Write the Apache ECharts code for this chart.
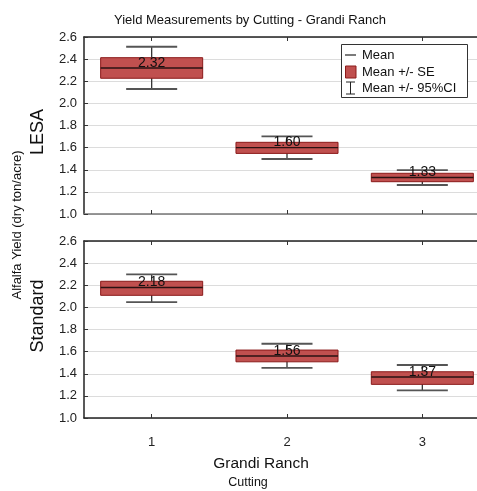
<!DOCTYPE html>
<html><head><meta charset="utf-8">
<script src="https://cdn.jsdelivr.net/npm/echarts@6/dist/echarts.min.js"></script>
<style>html,body{margin:0;padding:0;background:#fff}#c{width:477px;height:491px}</style>
</head><body><div id="c"></div>
<script>
const cuttings = ['1', '2', '3'];
const yTicks = [1.0, 1.2, 1.4, 1.6, 1.8, 2.0, 2.2, 2.4, 2.6];
// LESA
const lesaMean = [2.32, 1.60, 1.33];
const lesaSeLow = [2.227, 1.548, 1.292];
const lesaSeHigh = [2.413, 1.648, 1.368];
const lesaCiLow = [2.13, 1.497, 1.262];
const lesaCiHigh = [2.512, 1.702, 1.397];
// Standard
const stdMean = [2.18, 1.56, 1.37];
const stdSeLow = [2.109, 1.508, 1.304];
const stdSeHigh = [2.236, 1.614, 1.418];
const stdCiLow = [2.048, 1.454, 1.25];
const stdCiHigh = [2.299, 1.671, 1.479];

const FONT = 'Liberation Sans, Arial, sans-serif';
const chart = echarts.init(document.getElementById('c'), null, {renderer: 'canvas'});

function rangeData(lo, hi) { return cuttings.map((c, i) => [i, lo[i], hi[i]]); }
function meanData(m) { return cuttings.map((c, i) => [i, m[i]]); }

function boxItem(params, api) {
  const x = api.value(0);
  const lo = api.coord([x, api.value(1)]);
  const hi = api.coord([x, api.value(2)]);
  const bw = api.size([1, 0])[0] * 0.754;
  return {type: 'rect', shape: {x: lo[0] - bw / 2, y: hi[1], width: bw, height: lo[1] - hi[1]},
    style: {fill: '#c0504f', stroke: '#8b1a1a', lineWidth: 1}};
}
function ciItem(params, api) {
  const x = api.value(0);
  const lo = api.coord([x, api.value(1)]);
  const hi = api.coord([x, api.value(2)]);
  const cw = api.size([1, 0])[0] * 0.377;
  return {type: 'group', children: [
    {type: 'line', shape: {x1: lo[0], y1: lo[1], x2: hi[0], y2: hi[1]}, style: {stroke: '#333', lineWidth: 1.3}},
    {type: 'line', shape: {x1: hi[0] - cw / 2, y1: hi[1], x2: hi[0] + cw / 2, y2: hi[1]}, style: {stroke: '#555', lineWidth: 1.8}},
    {type: 'line', shape: {x1: lo[0] - cw / 2, y1: lo[1], x2: lo[0] + cw / 2, y2: lo[1]}, style: {stroke: '#555', lineWidth: 1.8}}
  ]};
}
function meanItem(params, api) {
  const x = api.value(0);
  const v = api.value(1);
  const p = api.coord([x, v]);
  const bw = api.size([1, 0])[0] * 0.754;
  return {type: 'group', children: [
    {type: 'line', shape: {x1: p[0] - bw / 2, y1: p[1], x2: p[0] + bw / 2, y2: p[1]}, style: {stroke: '#2a1212', lineWidth: 1.4}},
    {type: 'text', x: p[0], y: p[1] + 2, style: {text: v.toFixed(2), fill: '#111', font: '14px ' + FONT, align: 'center', verticalAlign: 'bottom'}}
  ]};
}

function xAx(gi, pos, lineColor, showLabel) {
  return {type: 'category', gridIndex: gi, position: pos, data: cuttings, boundaryGap: true,
    axisLine: {show: true, onZero: false, lineStyle: {color: lineColor, width: 1.5}},
    axisTick: {show: true, inside: true, length: 4, alignWithLabel: true, lineStyle: {color: '#333'}},
    axisLabel: {show: showLabel, fontSize: 13, color: '#222', fontFamily: FONT, margin: 18},
    splitLine: {show: false}};
}
function yAx(gi) {
  return {type: 'value', gridIndex: gi, min: yTicks[0], max: yTicks[yTicks.length - 1], interval: 0.2,
    axisLine: {show: true, lineStyle: {color: '#222', width: 1.5}},
    axisTick: {show: true, inside: true, length: 4, lineStyle: {color: '#333'}},
    axisLabel: {fontSize: 13, color: '#222', fontFamily: FONT, margin: 7, formatter: v => v.toFixed(1)},
    splitLine: {show: true, lineStyle: {color: '#dcdcdc', width: 1}}};
}

const panels = [
  {m: lesaMean, seL: lesaSeLow, seH: lesaSeHigh, ciL: lesaCiLow, ciH: lesaCiHigh},
  {m: stdMean, seL: stdSeLow, seH: stdSeHigh, ciL: stdCiLow, ciH: stdCiHigh}
];
const series = [];
panels.forEach((p, gi) => {
  const xi = gi * 2;
  series.push({type: 'custom', name: 'Mean +/- 95%CI', xAxisIndex: xi, yAxisIndex: gi, renderItem: ciItem, data: rangeData(p.ciL, p.ciH), silent: true});
  series.push({type: 'custom', name: 'Mean +/- SE', xAxisIndex: xi, yAxisIndex: gi, renderItem: boxItem, data: rangeData(p.seL, p.seH), silent: true});
  series.push({type: 'custom', name: 'Mean', xAxisIndex: xi, yAxisIndex: gi, renderItem: meanItem, data: meanData(p.m), silent: true});
});

const legendX = 341, legendY = 44;
const option = {
  animation: false,
  backgroundColor: '#fff',
  title: {text: 'Yield Measurements by Cutting - Grandi Ranch', left: 109, top: 9,
    textStyle: {fontSize: 13, fontWeight: 'normal', color: '#111', fontFamily: FONT}},
  grid: [
    {left: 84, top: 37, width: 406, height: 177, outerBoundsMode: 'none', containLabel: false},
    {left: 84, top: 241, width: 406, height: 177, outerBoundsMode: 'none', containLabel: false}
  ],
  xAxis: [xAx(0, 'bottom', '#777', false), xAx(0, 'top', '#222', false), xAx(1, 'bottom', '#222', true), xAx(1, 'top', '#222', false)],
  yAxis: [yAx(0), yAx(1)],
  series: series,
  graphic: [
    {type: 'text', x: 38, y: 132, rotation: Math.PI / 2, style: {text: 'LESA', font: '18px ' + FONT, fill: '#111', align: 'center', verticalAlign: 'middle'}},
    {type: 'text', x: 38, y: 316, rotation: Math.PI / 2, style: {text: 'Standard', font: '18px ' + FONT, fill: '#111', align: 'center', verticalAlign: 'middle'}},
    {type: 'text', x: 17, y: 225, rotation: Math.PI / 2, style: {text: 'Alfalfa Yield (dry ton/acre)', font: '13px ' + FONT, fill: '#111', align: 'center', verticalAlign: 'middle'}},
    {type: 'text', x: 261, y: 464, style: {text: 'Grandi Ranch', font: '15.5px ' + FONT, fill: '#111', align: 'center', verticalAlign: 'middle'}},
    {type: 'text', x: 248, y: 483, style: {text: 'Cutting', font: '12.5px ' + FONT, fill: '#111', align: 'center', verticalAlign: 'middle'}},
    {type: 'rect', shape: {x: legendX + 0.5, y: legendY + 0.5, width: 126, height: 53}, style: {fill: '#fff', stroke: '#333', lineWidth: 1}, z: 100},
    {type: 'line', shape: {x1: legendX + 4, y1: legendY + 11, x2: legendX + 15, y2: legendY + 11}, style: {stroke: '#222', lineWidth: 1.2}, z: 101},
    {type: 'rect', shape: {x: legendX + 4.5, y: legendY + 22, width: 10.5, height: 12}, style: {fill: '#c0504f', stroke: '#8b1a1a', lineWidth: 1}, z: 101},
    {type: 'line', shape: {x1: legendX + 9.5, y1: legendY + 38, x2: legendX + 9.5, y2: legendY + 50}, style: {stroke: '#222', lineWidth: 1}, z: 101},
    {type: 'line', shape: {x1: legendX + 5, y1: legendY + 38, x2: legendX + 14, y2: legendY + 38}, style: {stroke: '#222', lineWidth: 1}, z: 101},
    {type: 'line', shape: {x1: legendX + 5, y1: legendY + 50, x2: legendX + 14, y2: legendY + 50}, style: {stroke: '#222', lineWidth: 1}, z: 101},
    {type: 'text', x: legendX + 21, y: legendY + 11, style: {text: 'Mean', font: '13px ' + FONT, fill: '#111', verticalAlign: 'middle'}, z: 101},
    {type: 'text', x: legendX + 21, y: legendY + 28, style: {text: 'Mean +/- SE', font: '13px ' + FONT, fill: '#111', verticalAlign: 'middle'}, z: 101},
    {type: 'text', x: legendX + 21, y: legendY + 44.5, style: {text: 'Mean +/- 95%CI', font: '13px ' + FONT, fill: '#111', verticalAlign: 'middle'}, z: 101}
  ]
};
chart.setOption(option);
</script></body></html>
